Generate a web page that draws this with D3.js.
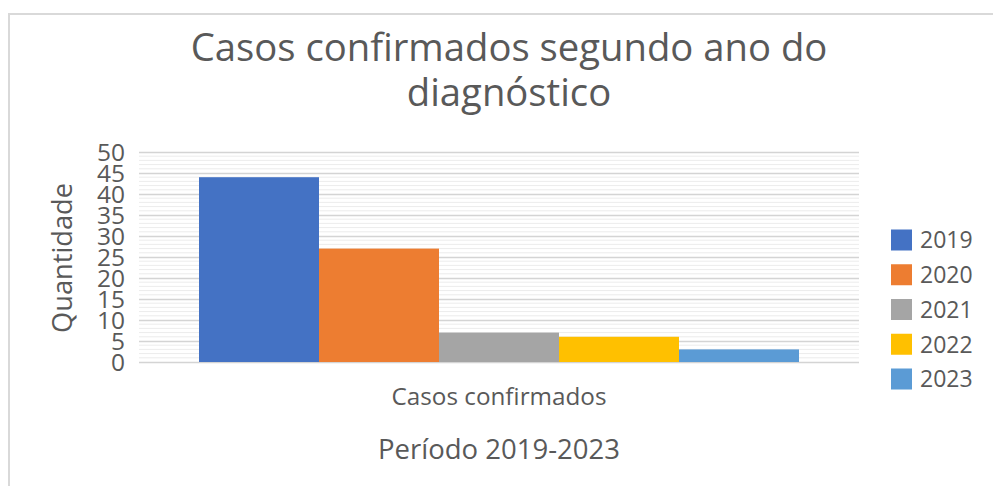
<!DOCTYPE html>
<html><head><meta charset="utf-8">
<script src="https://cdn.jsdelivr.net/npm/d3@7"></script>
<style>body{margin:0;background:#fff;} svg{display:block;}</style>
</head><body>
<svg id="c" width="993" height="486"></svg>
<script>
const categories = ["Casos confirmados"];
const years = ["2019", "2020", "2021", "2022", "2023"];
const values = [44, 27, 7, 6, 3];
const colors = ["#4472C4", "#ED7D31", "#A5A5A5", "#FFC000", "#5B9BD5"];
const yTicks = [0, 5, 10, 15, 20, 25, 30, 35, 40, 45, 50];

const svg = d3.select("#c");
const font = "'Open Sans', sans-serif";
const txt = "#595959";

function fit(sel, target) {
  const fs0 = +sel.attr("font-size");
  const w = sel.node().getComputedTextLength();
  sel.attr("font-size", fs0 * target / w);
  return fs0 * target / w;
}

// chart border
svg.append("path").attr("d", "M9,490 L9,14 L1000,14")
  .attr("fill", "none").attr("stroke", "#d9d9d9").attr("stroke-width", 2);

const x0 = d3.scaleBand().domain(categories).range([139, 859]).paddingInner(0).paddingOuter(0.1);
const x1 = d3.scaleBand().domain(years).range([0, x0.bandwidth()]).padding(0);
const y = d3.scaleLinear().domain([0, 50]).range([362, 152]);
const color = d3.scaleOrdinal().domain(years).range(colors);

// minor grid
const minor = d3.range(0, 51, 1).filter(v => v % 5 !== 0);
svg.append("g").selectAll("line").data(minor).join("line")
  .attr("x1", 139).attr("x2", 859)
  .attr("y1", d => y(d)).attr("y2", d => y(d))
  .attr("stroke", "#ececec").attr("stroke-width", 1);

// major grid via axis
const gy = svg.append("g").attr("transform", "translate(139,0)")
  .call(d3.axisLeft(y).tickValues(yTicks).tickSize(-720).tickPadding(14));
gy.select(".domain").remove();
gy.selectAll(".tick line").attr("stroke", "#d4d4d4").attr("stroke-width", 1.3);
gy.selectAll(".tick text").attr("fill", txt).attr("font-family", font).attr("font-size", 24.5)
  .attr("dy", "0.36em");

// bars
const rows = years.map((yr, i) => ({cat: categories[0], year: yr, value: values[i]}));
svg.append("g").selectAll("rect").data(rows).join("rect")
  .attr("x", d => x0(d.cat) + x1(d.year))
  .attr("width", x1.bandwidth())
  .attr("y", d => y(d.value))
  .attr("height", d => y(0) - y(d.value))
  .attr("fill", d => color(d.year));

// category label
const cl = svg.append("text").attr("x", x0(categories[0]) + x0.bandwidth() / 2).attr("y", 405)
  .attr("text-anchor", "middle").attr("font-family", font).attr("font-size", 20).attr("fill", txt)
  .text(categories[0]);
fit(cl, 215);

// x axis title
const xt = svg.append("text").attr("x", 499).attr("y", 459)
  .attr("text-anchor", "middle").attr("font-family", font).attr("font-size", 23).attr("fill", txt)
  .text("Período 2019-2023");
fit(xt, 242);

// y axis title
const yt = svg.append("text").attr("transform", "translate(72,258) rotate(-90)")
  .attr("text-anchor", "middle").attr("font-family", font).attr("font-size", 23).attr("fill", txt)
  .text("Quantidade");
fit(yt, 150);

// title
const t1 = svg.append("text").attr("x", 509).attr("y", 61)
  .attr("text-anchor", "middle").attr("font-family", font).attr("font-size", 36).attr("fill", txt)
  .text("Casos confirmados segundo ano do");
const t2 = svg.append("text").attr("x", 509).attr("y", 106)
  .attr("text-anchor", "middle").attr("font-family", font).attr("font-size", 36).attr("fill", txt)
  .text("diagnóstico");
const fs = fit(t1, 637);
t2.attr("font-size", fs);

// legend
const lg = svg.append("g");
const ly = d3.scalePoint().domain(years).range([240, 379]);
years.forEach(yr => {
  lg.append("rect").attr("x", 891).attr("y", ly(yr) - 10.5).attr("width", 21).attr("height", 21).attr("fill", color(yr));
  lg.append("text").attr("x", 920).attr("y", ly(yr)).attr("dy", "0.36em")
    .attr("font-family", font).attr("font-size", 23).attr("fill", txt).text(yr);
});
</script>
</body></html>
